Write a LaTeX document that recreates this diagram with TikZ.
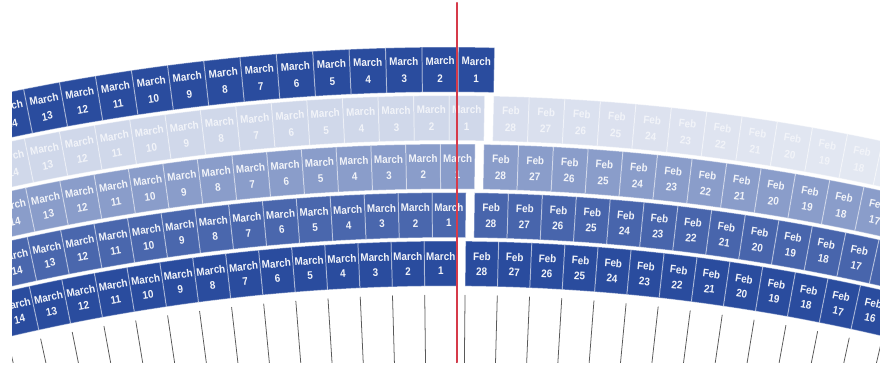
\documentclass[tikz,border=0pt]{standalone}
\usepackage{fontspec}
\newfontfamily\cellfont[FakeStretch=0.9]{Liberation Sans}
\definecolor{dayblue}{RGB}{42,76,158}
\definecolor{seamred}{RGB}{214,58,74}
\begin{document}
\begin{tikzpicture}[x=0.025cm,y=0.025cm,line cap=round,line join=round,
    daycell/.style={fill=dayblue!#1,draw=white,draw opacity=0.4,line width=0.7pt},
    daytext/.style={text=white!94!dayblue,inner sep=0pt,align=center,
      font=\cellfont\bfseries\fontsize{7.8}{\bs}\selectfont},
    tick/.style={draw=black!65,line width=0.55pt},
    seamline/.style={draw=seamred,line width=1.5pt}]
  \def\du{0.97}  \def\dq{0.2425}
  \def\Ro{1960}  \def\dr{48.5} \def\hr{45}
  \def\seam{89.7}
  \useasboundingbox (0,0) rectangle (880,369);
  \coordinate (O) at (447,-1832);
  \coordinate (seamtop) at (457,366); \coordinate (seambot) at (457,7);
  \begin{scope}
    \clip (12,7) rectangle (880,369);
    \begin{scope}[shift={(O)}]
      % March, five rings
      \foreach \k/\p in {0/100,1/85,2/55,3/22,4/100}{
        \pgfmathsetmacro\ro{\Ro+\k*\dr} \pgfmathsetmacro\ri{\ro-\hr}
        \pgfmathsetmacro\rmid{\ro-\hr/2} \pgfmathsetmacro\bs{10.6+0.4*\k}
        \foreach \d in {1,...,15}{
          \pgfmathsetmacro\ta{\seam-\k*\dq+(\d-1)*\du}
          \pgfmathsetmacro\tb{\ta+\du} \pgfmathsetmacro\tm{\ta+\du/2}
          \path[daycell=\p] (\ta:\ri) arc[start angle=\ta,end angle=\tb,radius=\ri]
            -- (\tb:\ro) arc[start angle=\tb,end angle=\ta,radius=\ro] -- cycle;
          \node[daytext,rotate=\tm-90] (m\k-\d) at (\tm:\rmid) {March\\\d};
        }
      }
      % Feb, four rings
      \foreach \k/\p/\f in {0/100/0,1/86/0,2/55/0,3/18/0.5}{
        \pgfmathsetmacro\ro{\Ro+\k*\dr} \pgfmathsetmacro\ri{\ro-\hr}
        \pgfmathsetmacro\rmid{\ro-\hr/2} \pgfmathsetmacro\bs{10.6+0.4*\k}
        \foreach \d in {28,27,...,15}{
          \pgfmathsetmacro\tb{\seam-(\k+1)*\dq-(28-\d)*\du}
          \pgfmathsetmacro\ta{\tb-\du} \pgfmathsetmacro\tm{\ta+\du/2}
          \pgfmathsetmacro\pc{\p-(28-\d)*\f}
          \path[daycell=\pc] (\ta:\ri) arc[start angle=\ta,end angle=\tb,radius=\ri]
            -- (\tb:\ro) arc[start angle=\tb,end angle=\ta,radius=\ro] -- cycle;
          \node[daytext,rotate=\tm-90] (f\k-\d) at (\tm:\rmid) {Feb\\\d};
        }
      }
      % ticks under the bottom ring
      \foreach \i in {0,...,15}{
        \pgfmathsetmacro\ta{\seam+\i*\du}
        \draw[tick] (\ta:1906) -- (\ta:1780);
      }
      \foreach \i in {0,...,14}{
        \pgfmathsetmacro\tb{\seam-\dq-\i*\du}
        \draw[tick] (\tb:1906) -- (\tb:1780);
      }
    \end{scope}
  \end{scope}
  \draw[seamline] (seamtop) -- (seambot);
\end{tikzpicture}
\end{document}
